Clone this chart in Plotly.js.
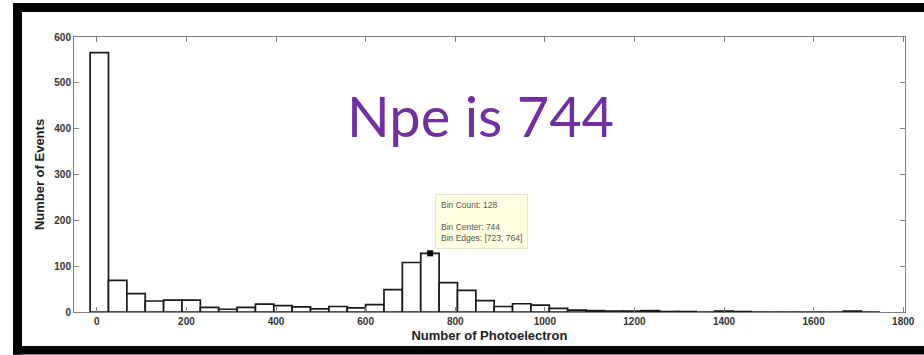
<!DOCTYPE html>
<html>
<head>
<meta charset="utf-8">
<script src="https://cdn.plot.ly/plotly-3.0.1.min.js"></script>
<style>
  html, body { margin: 0; padding: 0; background: #ffffff; }
  #chart { width: 924px; height: 355px; }
</style>
</head>
<body>
<div id="chart"></div>
<script>
// ---- data ----
const binWidth = 41;
const firstEdge = -15;
const binCounts = [566, 69, 40, 24, 26, 26, 10, 6, 10, 17,
                   14, 11, 7, 12, 9, 16, 49, 108, 128, 64,
                   47, 25, 12, 18, 15, 8, 4, 3, 2, 2,
                   3, 1, 1, 0, 2, 1, 0, 0, 0, 0,
                   0, 2, 0];
const binCenters = binCounts.map((_, i) => firstEdge + binWidth * i + binWidth / 2);
const xTickVals = [0, 200, 400, 600, 800, 1000, 1200, 1400, 1600, 1800];
const yTickVals = [0, 100, 200, 300, 400, 500, 600];
const tipCount = 128;
const tipCenter = 744;
const tipEdges = [723, 764];
const npeText = "Npe is 744";

const bars = {
  type: 'bar',
  x: binCenters,
  y: binCounts,
  width: binWidth,
  marker: { color: '#ffffff', line: { color: '#1a1a1a', width: 1.7 } },
  hoverinfo: 'x+y',
  showlegend: false
};
const tipMarker = {
  type: 'scatter',
  mode: 'markers',
  x: [tipCenter],
  y: [tipCount],
  marker: { symbol: 'square', size: 6, color: '#000000' },
  showlegend: false,
  hoverinfo: 'skip'
};

const sans = 'Liberation Sans, Arial, sans-serif';
const tickFont = { family: sans, size: 10, color: '#333333', weight: 'bold' };

const frame = (x0, x1, y0, y1) => ({
  type: 'rect', xref: 'paper', yref: 'paper', x0, x1, y0, y1,
  fillcolor: '#000000', line: { width: 0 }, layer: 'above'
});

const layout = {
  width: 924,
  height: 355,
  margin: { l: 74, r: 19, t: 37, b: 42.5 },
  paper_bgcolor: '#ffffff',
  plot_bgcolor: '#ffffff',
  bargap: 0,
  xaxis: {
    range: [-51, 1804],
    tickvals: xTickVals,
    ticks: 'inside', ticklen: 5, tickcolor: '#808080',
    showline: true, linecolor: '#808080', linewidth: 1, mirror: 'ticks',
    showgrid: false, zeroline: false,
    tickfont: tickFont,
    title: { text: '<b>Number of Photoelectron</b>', font: { family: sans, size: 13, color: '#222222' }, standoff: 4 }
  },
  yaxis: {
    range: [0, 600],
    tickvals: yTickVals,
    ticks: 'inside', ticklen: 5, tickcolor: '#808080',
    showline: true, linecolor: '#808080', linewidth: 1, mirror: 'ticks',
    showgrid: false, zeroline: false,
    tickfont: tickFont,
    title: { text: '<b>Number of Events</b>', font: { family: sans, size: 13, color: '#222222' }, standoff: 6 }
  },
  annotations: [
    {
      xref: 'x', yref: 'y', x: tipCenter, y: tipCount,
      xanchor: 'left', yanchor: 'bottom', xshift: 5, yshift: 4,
      showarrow: false, align: 'left',
      text: 'Bin Count: ' + tipCount + '<br><br>Bin Center: ' + tipCenter + '<br>Bin Edges: [' + tipEdges[0] + ', ' + tipEdges[1] + ']',
      font: { family: sans, size: 8.5, color: '#555555' },
      bgcolor: '#ffffe1', bordercolor: '#e6e6cc', borderwidth: 1, borderpad: 5
    },
    {
      xref: 'paper', yref: 'paper', x: 0.489, y: 0.715,
      xanchor: 'center', yanchor: 'middle', showarrow: false,
      text: npeText,
      font: { family: 'Lato, Open Sans, sans-serif', size: 56, color: '#7030a0' }
    }
  ],
  shapes: [
    frame(-0.0734, -0.0626, -0.1543, 1.1234),
    frame(-0.0734, 1.0229, 1.0907, 1.1234),
    frame(-0.0734, 1.0229, -0.1543, -0.1234)
  ]
};

Plotly.newPlot('chart', [bars, tipMarker], layout, { displayModeBar: false, staticPlot: true });
</script>
</body>
</html>
